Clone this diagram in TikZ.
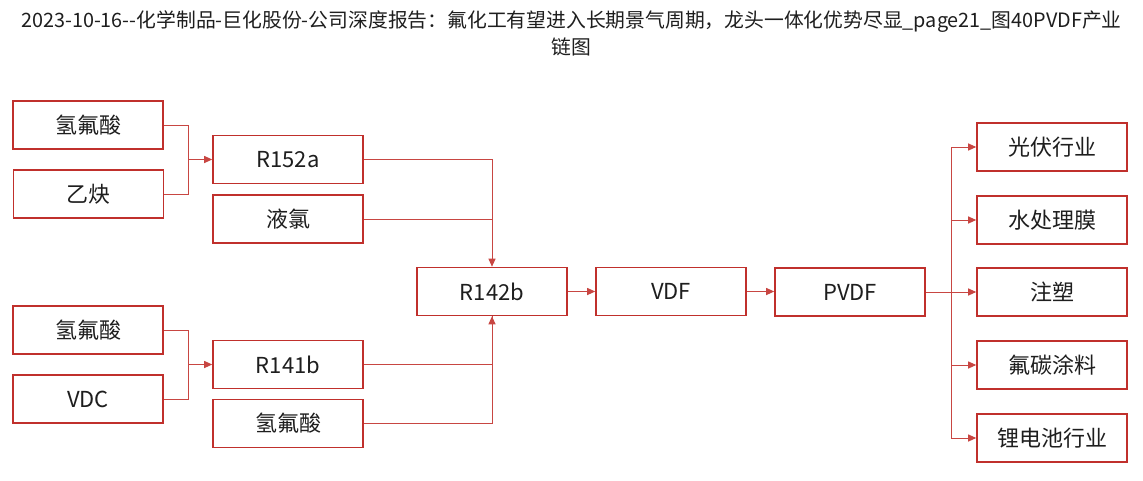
\documentclass[tikz,border=0pt]{standalone}
\usepackage{fontspec}
\setmainfont{Noto Sans CJK SC}
\usetikzlibrary{arrows.meta}
\definecolor{boxred}{RGB}{192,48,44}
\definecolor{linered}{RGB}{200,70,66}
\definecolor{txt}{RGB}{30,30,30}
\tikzset{
  chainbox/.style={draw=boxred, line width=1.6pt, fill=white, minimum width=150pt, minimum height=48pt, inner sep=0pt, text=txt, font=\fontsize{22}{24}\selectfont},
  link/.style={draw=linered, line width=1pt},
  linkarr/.style={link, -{Triangle[length=8pt,width=7pt]}},
}
\begin{document}
\begin{tikzpicture}[x=1pt,y=-1pt]
\useasboundingbox (0,0) rectangle (1143,480);
\fill[white] (0,0) rectangle (1143,480);
\node[text=txt, font=\fontsize{19.8}{27}\selectfont, align=center] (title) at (571.5,33.5) {2023-10-16-{}-化学制品-巨化股份-公司深度报告：氟化工有望进入长期景气周期，龙头一体化优势尽显\_page21\_图40PVDF产业\\链图};
% upper left
\node[chainbox] (hf1) at (88,125) {氢氟酸};
\node[chainbox] (yq) at (88.5,194) {乙炔};
\node[chainbox] (r152) at (288,159.5) {R152a};
\node[chainbox] (ylv) at (288,219) {液氯};
% lower left
\node[chainbox] (hf2) at (88,330) {氢氟酸};
\node[chainbox] (vdc) at (88,399) {VDC};
\node[chainbox] (r141) at (288,364.5) {R141b};
\node[chainbox] (hf3) at (288,423.5) {氢氟酸};
% main chain
\node[chainbox] (r142) at (492,291.5) {R142b};
\node[chainbox] (vdf) at (671,291.5) {VDF};
\node[chainbox] (pvdf) at (850,292) {PVDF};
% outputs
\node[chainbox] (o1) at (1052,147) {光伏行业};
\node[chainbox] (o2) at (1052,220) {水处理膜};
\node[chainbox] (o3) at (1052,292) {注塑};
\node[chainbox] (o4) at (1052,365) {氟碳涂料};
\node[chainbox] (o5) at (1052,438) {锂电池行业};
% connectors
\coordinate (b1) at (188,159.5);
\coordinate (b2) at (188,364.5);
\coordinate (b3) at (951,292);
\draw[link] (hf1.east) -| (b1);
\draw[link] (yq.east) -| (b1);
\draw[linkarr] (b1) -- (r152.west);
\draw[link] (hf2.east) -| (b2);
\draw[link] (vdc.east) -| (b2);
\draw[linkarr] (b2) -- (r141.west);
\draw[link] (ylv.east) -- (ylv.east -| r142.north);
\draw[linkarr] (r152.east) -| (r142.north);
\draw[link] (hf3.east) -| (r142.south);
\draw[linkarr] (r141.east) -| (r142.south);
\draw[linkarr] (r142.east) -- (vdf.west);
\draw[linkarr] (vdf.east) -- (vdf.east -| pvdf.west);
\draw[linkarr] (pvdf.east) -- (o3.west);
\draw[linkarr] (b3) |- (o1.west);
\draw[linkarr] (b3) |- (o2.west);
\draw[linkarr] (b3) |- (o4.west);
\draw[linkarr] (b3) |- (o5.west);
\end{tikzpicture}
\end{document}
